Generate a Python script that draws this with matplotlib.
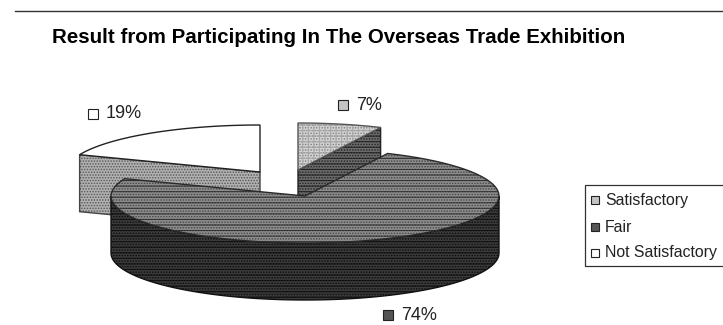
import numpy as np
import matplotlib
matplotlib.use("Agg")
import matplotlib.pyplot as plt
from matplotlib.patches import Polygon, Rectangle

plt.rcParams['font.family'] = ['Liberation Sans', 'DejaVu Sans']
plt.rcParams['hatch.linewidth'] = 0.7

title = "Result from Participating In The Overseas Trade Exhibition"
categories = ["Satisfactory", "Fair", "Not Satisfactory"]
values = [7, 74, 19]
labels = ["7%", "74%", "19%"]

fig = plt.figure(figsize=(7.23, 3.25), dpi=100)
ax = fig.add_axes([0, 0, 1, 1])
ax.set_xlim(0, 723)
ax.set_ylim(325, 0)
ax.axis('off')

RX, RY, DEPTH = 194, 47, 57
centers = [(298, 170), (305, 196), (260, 172)]

fractions = np.array(values) / sum(values)
ends = np.cumsum(fractions) * 2 * np.pi
starts = ends - fractions * 2 * np.pi


def rim(c, a0, a1, dy=0, n=80):
    a = np.linspace(a0, a1, n)
    return np.column_stack([c[0] + RX * np.sin(a), c[1] - RY * np.cos(a) + dy])


def face(pts, fc, z, fine=None, fine_color='#555555', bands=None, band_color='#2a2a2a', line='#222222'):
    ax.add_patch(Polygon(pts, closed=True, facecolor=fc, edgecolor='none', zorder=z))
    if fine:
        ax.add_patch(Polygon(pts, closed=True, facecolor='none', hatch=fine, edgecolor=fine_color,
                             linewidth=0, zorder=z))
    if bands:
        ax.add_patch(Polygon(pts, closed=True, facecolor='none', hatch=bands, edgecolor=band_color,
                             linewidth=0, zorder=z))
    ax.add_patch(Polygon(pts, closed=True, facecolor='none', edgecolor=line, linewidth=1.0, zorder=z))


# Not Satisfactory: cut face then top
c = centers[2]
tip = rim(c, starts[2], starts[2], n=1)[0]
face([tip, c, (c[0], c[1] + DEPTH), (tip[0], tip[1] + DEPTH)], '#b0b0b0', 1,
     fine='......', fine_color='#555555', line='#444444')
face(np.vstack([[c], rim(c, starts[2], ends[2])]), 'white', 2)

# Satisfactory: cut face then top
c = centers[0]
tip = rim(c, ends[0], ends[0], n=1)[0]
face([c, tip, (tip[0], tip[1] + DEPTH), (c[0], c[1] + DEPTH)], '#6a6a6a', 1,
     fine='......', fine_color='#222222', bands='---', band_color='#222222')
face(np.vstack([[c], rim(c, starts[0], ends[0])]), '#d4d4d4', 2,
     fine='......', fine_color='#777777', bands='+++', band_color='#a8a8a8', line='#555555')

# Fair: outer wall then top
c = centers[1]
front = rim(c, np.pi / 2, 3 * np.pi / 2)
back = rim(c, np.pi / 2, 3 * np.pi / 2, dy=DEPTH)[::-1]
face(np.vstack([front, back]), '#3a3a3a', 3,
     fine='......', fine_color='#0c0c0c', bands='---', band_color='#111111', line='#111111')
face(np.vstack([[c], rim(c, starts[1], ends[1])]), '#8c8c8c', 4,
     fine='......', fine_color='#444444', bands='---', band_color='#303030', line='#2a2a2a')

# Rule and title
ax.plot([15, 723], [10.5, 10.5], color='#333333', lw=1.0)
ax.text(52, 37.5, title, fontsize=14.8, fontweight='bold', color='black', va='center', ha='left')

# Value labels with swatches
swatch_fc = ['#c4c4c4', '#555555', 'white']
label_pos = [(338, 105), (383, 315), (88, 114)]
for lab, fc, (x, y) in zip(labels, swatch_fc, label_pos):
    ax.add_patch(Rectangle((x, y - 5), 10, 10, facecolor=fc, edgecolor='#222222', lw=0.8, zorder=5))
    ax.text(x + 18, y, lab, fontsize=13, color='#222222', va='center', ha='left')

# Legend
ax.plot([723, 584.5, 584.5, 723], [185, 185, 266, 266], color='#333333', lw=0.9)
legend_y = [200, 227, 253]
for cat, fc, y in zip(categories, swatch_fc, legend_y):
    ax.add_patch(Rectangle((591, y - 4), 8, 8, facecolor=fc, edgecolor='#222222', lw=0.8))
    ax.text(605, y, cat, fontsize=11.4, color='#222222', va='center', ha='left')

fig.savefig('out.png', dpi=100)
